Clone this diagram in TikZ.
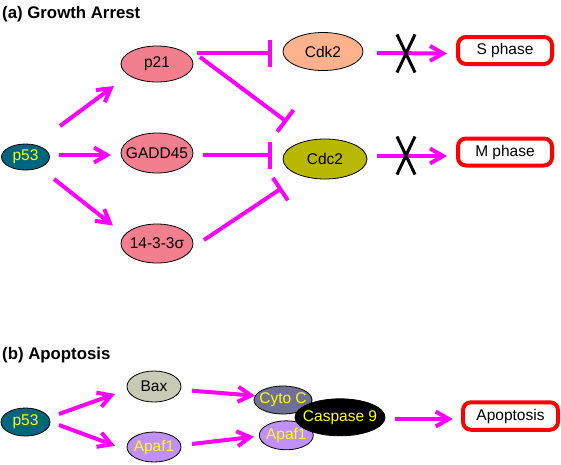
\documentclass[tikz,border=0pt]{standalone}
\usepackage{fontspec}
\setmainfont{Liberation Sans}
\usetikzlibrary{shapes.geometric,arrows.meta,calc}
\definecolor{mag}{RGB}{255,0,255}
\definecolor{yel}{RGB}{255,255,0}
\definecolor{tealc}{RGB}{0,102,128}
\definecolor{pinkc}{RGB}{242,126,142}
\definecolor{peach}{RGB}{255,178,140}
\definecolor{olive}{RGB}{184,184,0}
\definecolor{baxc}{RGB}{200,202,182}
\definecolor{cytoc}{RGB}{112,112,150}
\definecolor{apafc}{RGB}{192,144,248}
\begin{document}
\begin{tikzpicture}[x=1pt,y=-1pt,
  ell/.style={ellipse,draw=black,line width=0.8pt,inner sep=0pt,font=\fontsize{15.5}{18}\selectfont},
  act/.style={draw=mag,line width=4pt,-{Straight Barb[length=13pt,width=15pt]}},
  inh/.style={draw=mag,line width=4pt,-{Bar[width=27pt]}},
  phase/.style={draw=red,line width=4pt,rounded corners=8pt,fill=white,inner sep=0pt,font=\fontsize{15.5}{18}\selectfont},
  xmark/.style={draw=black,line width=3pt},
  ttl/.style={font=\fontsize{16.8}{19}\selectfont\bfseries,anchor=base west,inner sep=0pt}]
\useasboundingbox[fill=white] (0,0) rectangle (561,464);
\newcommand{\zt}[1]{\makebox[0pt]{#1}}
% titles
\node[ttl] (ta) at (2,18) {(a) Growth Arrest};
\node[ttl] (tb) at (2,359) {(b) Apoptosis};
% (a) nodes
\node[ell,fill=tealc,minimum width=48pt,minimum height=26pt] (p53a) at (25.5,157) {\zt{\textcolor{yel}{p53}}};
\node[ell,fill=pinkc,minimum width=72pt,minimum height=36pt] (p21) at (157,64) {\zt{p21}};
\node[ell,fill=pinkc,minimum width=72pt,minimum height=40pt] (gadd) at (157,153) {\zt{GADD45}};
\node[ell,fill=pinkc,minimum width=72pt,minimum height=39pt] (s1433) at (157,243.5) {\zt{14-3-3σ}};
\node[ell,fill=peach,minimum width=80pt,minimum height=38pt] (cdk2) at (323,51.5) {\zt{Cdk2}};
\node[ell,fill=olive,minimum width=84pt,minimum height=40pt] (cdc2) at (325,159) {\zt{Cdc2}};
\node[phase,minimum width=94pt,minimum height=27pt] (sph) at (505,50.5) {S phase};
\node[phase,minimum width=94pt,minimum height=27pt] (mph) at (505,152) {M phase};
% (a) connectors
\draw[act] ([shift={(34.5,-31)}]p53a.center) -- ([shift={(-43,22)}]p21.center);
\draw[act] ([shift={(33.5,-2)}]p53a.center) -- ([shift={(-46,2)}]gadd.center);
\draw[act] ([shift={(28.5,22)}]p53a.center) -- ([shift={(-44,-18)}]s1433.center);
\draw[inh] ([shift={(40,-11)}]p21.center) -- ([shift={(-51,1.5)}]cdk2.center);
\draw[inh] ([shift={(43,-7)}]p21.center) -- ([shift={(-38,-37)}]cdc2.center);
\draw[inh] ([shift={(46,2)}]gadd.center) -- ([shift={(-53,-4)}]cdc2.center);
\draw[inh] ([shift={(47,-3.5)}]s1433.center) -- ([shift={(-43,29)}]cdc2.center);
\draw[act] ([shift={(54,1.5)}]cdk2.center) -- ([shift={(-58,3)}]sph.center);
\draw[act] ([shift={(52,-3)}]cdc2.center) -- ([shift={(-58,4)}]mph.center);
\coordinate (xa) at (406,53.5);
\coordinate (xb) at (406,155.5);
\draw[xmark] ([shift={(-9,-19)}]xa) -- ([shift={(9,19)}]xa);
\draw[xmark] ([shift={(9,-19)}]xa) -- ([shift={(-9,19)}]xa);
\draw[xmark] ([shift={(-9,-19)}]xb) -- ([shift={(9,19)}]xb);
\draw[xmark] ([shift={(9,-19)}]xb) -- ([shift={(-9,19)}]xb);
% (b) nodes
\node[ell,fill=tealc,minimum width=49pt,minimum height=28pt] (p53b) at (25.5,422) {\zt{\textcolor{yel}{p53}}};
\node[ell,fill=baxc,minimum width=54pt,minimum height=31pt] (bax) at (154,386.5) {\zt{Bax}};
\node[ell,fill=apafc,minimum width=54pt,minimum height=30pt] (apafa) at (154,447) {\zt{\textcolor{yel}{Apaf1}}};
\node[ell,fill=cytoc,minimum width=58pt,minimum height=28pt] (cyto) at (283,400) {\zt{\textcolor{yel}{Cyto C}}};
\node[ell,fill=apafc,minimum width=54pt,minimum height=29pt] (apafb) at (286.3,435.3) {\zt{\textcolor{yel}{Apaf1}}};
\node[ell,fill=black,minimum width=90pt,minimum height=37pt] (casp) at (340,417.3) {\zt{\textcolor{yel}{Caspase 9}}};
\node[phase,minimum width=95pt,minimum height=27.5pt] (apop) at (510.5,416) {Apoptosis};
% (b) connectors
\draw[act] ([shift={(33.5,-8)}]p53b.center) -- ([shift={(-39,7.5)}]bax.center);
\draw[act] ([shift={(33.5,3)}]p53b.center) -- ([shift={(-39,-1.3)}]apafa.center);
\draw[act] ([shift={(38,4.2)}]bax.center) -- ([shift={(-28,-4.3)}]cyto.center);
\draw[act] ([shift={(38,-3)}]apafa.center) -- ([shift={(-32.3,1.4)}]apafb.center);
\draw[act] ([shift={(55,1.7)}]casp.center) -- ([shift={(-57.8,3)}]apop.center);
\end{tikzpicture}
\end{document}
